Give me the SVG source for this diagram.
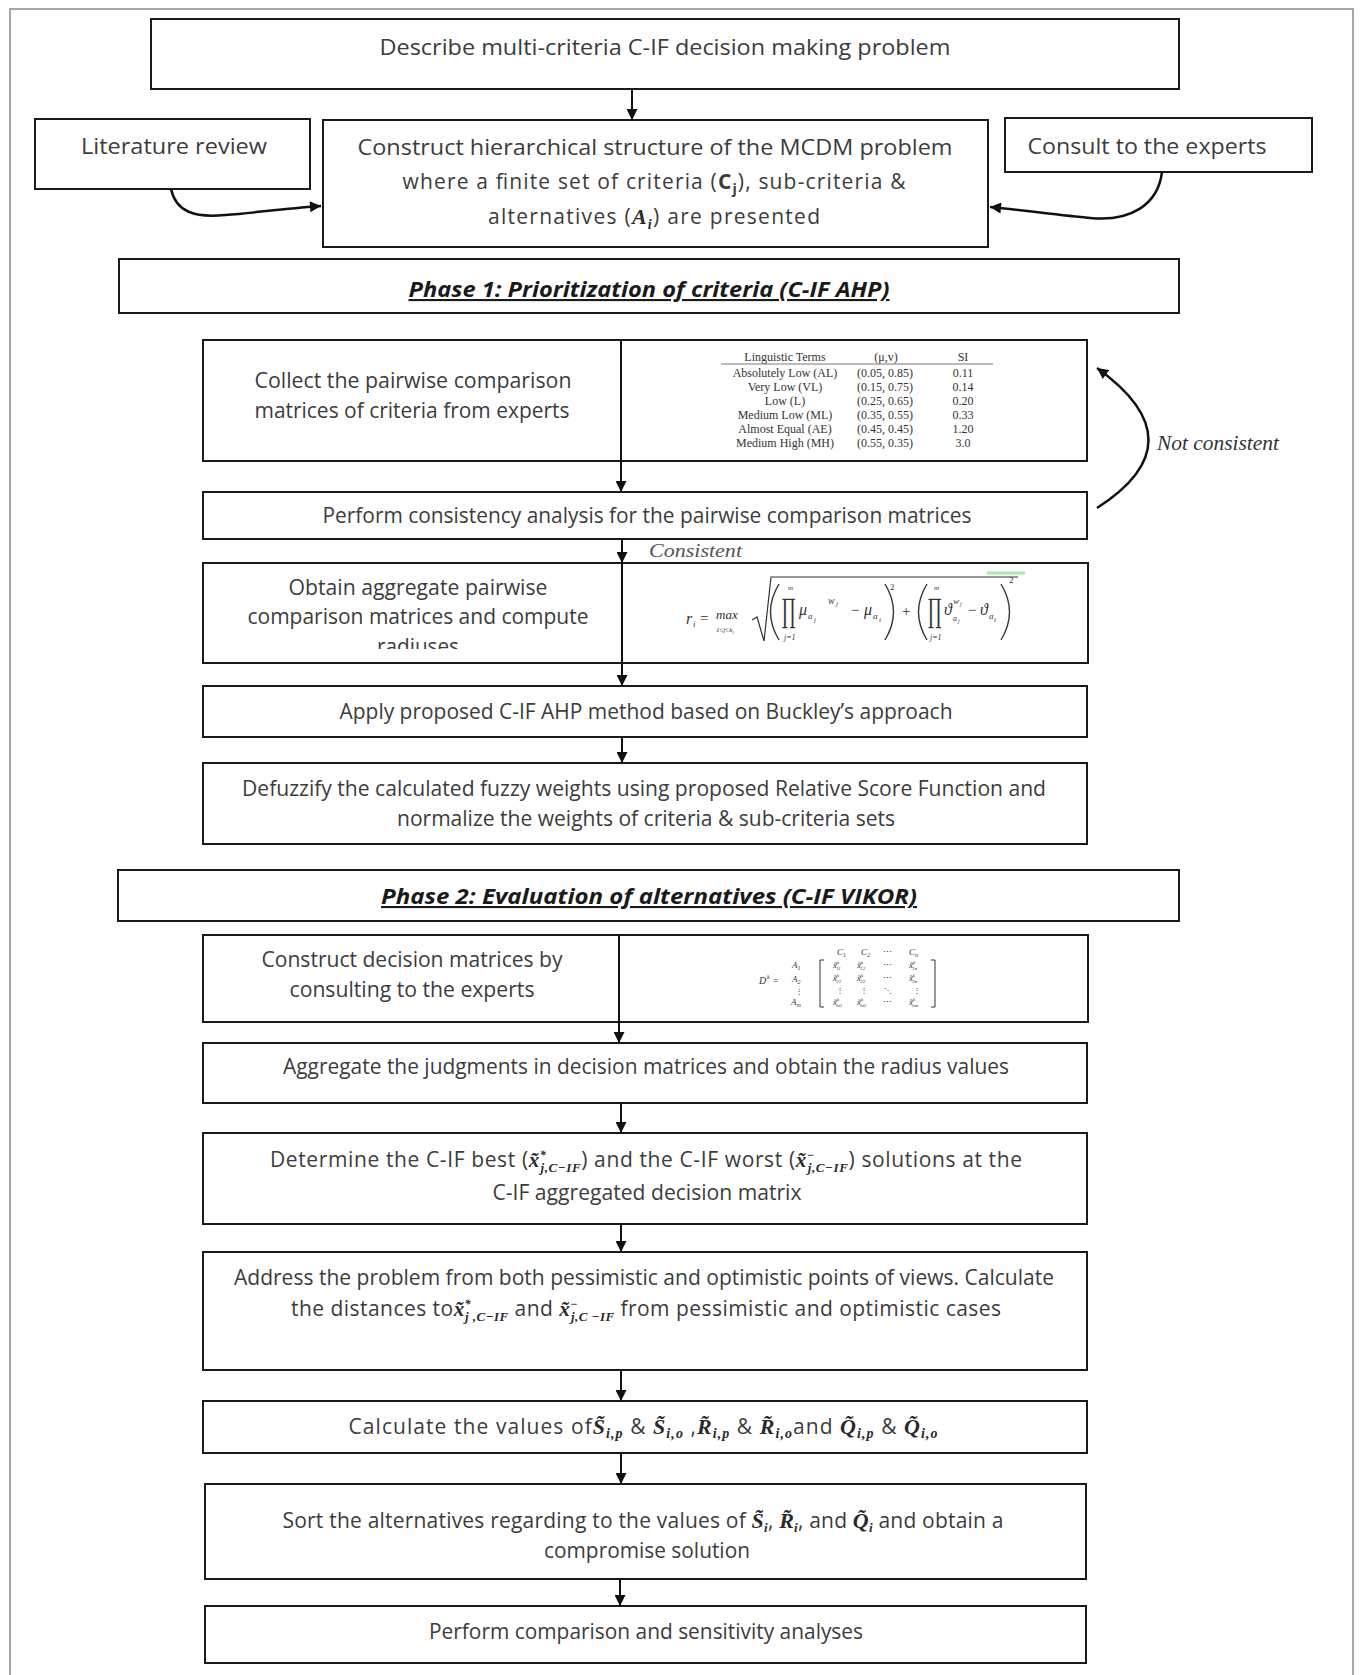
<svg xmlns="http://www.w3.org/2000/svg" width="1362" height="1675" viewBox="0 0 1362 1675">
<style>
.box{fill:#fff;stroke:#1a1a1a;stroke-width:2}
.t{font-family:"Open Sans","Noto Sans",sans-serif;font-size:21px;fill:#3c3c3c;text-anchor:middle}
.ph{font-family:"Open Sans","Noto Sans",sans-serif;font-size:21px;font-weight:bold;font-style:italic;fill:#1a1a1a;text-anchor:middle;text-decoration:underline}
.m{font-family:"Liberation Serif","DejaVu Serif",serif;font-style:italic}
.mb{font-family:"Liberation Serif","DejaVu Serif",serif;font-style:italic;font-weight:bold;fill:#2a2a2a}
.tb{font-family:"Liberation Serif",serif;font-size:12px;fill:#333;text-anchor:middle}
.f{font-family:"Liberation Serif","DejaVu Serif",serif;fill:#333}
.pr{font-family:"DejaVu Serif",serif;font-size:24px}
.c{fill:none;stroke:#111;stroke-width:2}
.cv{fill:none;stroke:#111;stroke-width:2.5}
.pa{fill:none;stroke:#333;stroke-width:1.4}
</style>
<defs>
<marker id="ah" viewBox="0 0 10 10" refX="10" refY="5" markerUnits="userSpaceOnUse" markerWidth="12" markerHeight="11" orient="auto">
<path d="M0,0 L10,5 L0,10 z" fill="#111"/>
</marker>
<clipPath id="clipAgg"><rect x="203" y="563" width="418" height="86"/></clipPath>
</defs>
<rect x="0" y="0" width="1362" height="1675" fill="#fff"/>
<rect x="10" y="9" width="1343" height="1700" fill="none" stroke="#8a8a8a" stroke-width="1.5"/>

<g id="n-describe">
<rect class="box" x="151" y="19" width="1028" height="70"/>
<text class="t" x="665" y="55" textLength="571" lengthAdjust="spacingAndGlyphs">Describe multi-criteria C-IF decision making problem</text>
</g>
<g id="n-literature">
<rect class="box" x="35" y="119" width="275" height="70"/>
<text class="t" x="174" y="154" textLength="186" lengthAdjust="spacingAndGlyphs">Literature review</text>
</g>
<g id="n-hierarchy">
<rect class="box" x="323" y="120" width="665" height="127"/>
<text class="t" x="655" y="155" textLength="595" lengthAdjust="spacingAndGlyphs">Construct hierarchical structure of the MCDM problem</text>
<text class="t" x="654" y="189" textLength="503" lengthAdjust="spacing">where a finite set of criteria (<tspan font-weight="bold">C</tspan><tspan font-size="14" dy="5" font-weight="bold">j</tspan><tspan dy="-5">), sub-criteria &amp;</tspan></text>
<text class="t" x="654" y="224" textLength="332" lengthAdjust="spacing">alternatives (<tspan class="mb" font-size="22">A</tspan><tspan class="mb" font-size="14" dy="5">i</tspan><tspan dy="-5">) are presented</tspan></text>
</g>
<g id="n-consult">
<rect class="box" x="1005" y="118" width="307" height="54"/>
<text class="t" x="1147" y="154" textLength="239" lengthAdjust="spacingAndGlyphs">Consult to the experts</text>
</g>
<g id="n-phase1">
<rect class="box" x="119" y="259" width="1060" height="54"/>
<text class="ph" x="649" y="297" textLength="481" lengthAdjust="spacingAndGlyphs">Phase 1: Prioritization of criteria (C-IF AHP)</text>
</g>
<g id="n-collect">
<rect class="box" x="203" y="340" width="884" height="121"/>
<text class="t" x="413" y="388" textLength="317" lengthAdjust="spacingAndGlyphs">Collect the pairwise comparison</text>
<text class="t" x="412" y="418" textLength="315" lengthAdjust="spacingAndGlyphs">matrices of criteria from experts</text>
<g id="table">
<text class="tb" x="785" y="361">Linguistic Terms</text>
<text class="tb" x="886" y="361">(μ,v)</text>
<text class="tb" x="963" y="361">SI</text>
<line x1="721" y1="364" x2="993" y2="364" stroke="#777" stroke-width="1"/>
<text class="tb" x="785" y="377">Absolutely Low (AL)</text><text class="tb" x="885" y="377">(0.05, 0.85)</text><text class="tb" x="963" y="377">0.11</text>
<text class="tb" x="785" y="391">Very Low (VL)</text><text class="tb" x="885" y="391">(0.15, 0.75)</text><text class="tb" x="963" y="391">0.14</text>
<text class="tb" x="785" y="405">Low (L)</text><text class="tb" x="885" y="405">(0.25, 0.65)</text><text class="tb" x="963" y="405">0.20</text>
<text class="tb" x="785" y="419">Medium Low (ML)</text><text class="tb" x="885" y="419">(0.35, 0.55)</text><text class="tb" x="963" y="419">0.33</text>
<text class="tb" x="785" y="433">Almost Equal (AE)</text><text class="tb" x="885" y="433">(0.45, 0.45)</text><text class="tb" x="963" y="433">1.20</text>
<text class="tb" x="785" y="447">Medium High (MH)</text><text class="tb" x="885" y="447">(0.55, 0.35)</text><text class="tb" x="963" y="447">3.0</text>
</g>
</g>
<g id="n-consistency">
<rect class="box" x="203" y="492" width="884" height="47"/>
<text class="t" x="647" y="523" textLength="649" lengthAdjust="spacingAndGlyphs">Perform consistency analysis for the pairwise comparison matrices</text>
</g>
<g id="n-aggregate">
<rect class="box" x="203" y="563" width="885" height="100"/>
<g clip-path="url(#clipAgg)">
<text class="t" x="418" y="595" textLength="259" lengthAdjust="spacingAndGlyphs">Obtain aggregate pairwise</text>
<text class="t" x="418" y="624" textLength="341" lengthAdjust="spacingAndGlyphs">comparison matrices and compute</text>
<text class="t" x="418" y="654" textLength="82" lengthAdjust="spacingAndGlyphs">radiuses</text>
</g>
<line x1="987" y1="573" x2="1025" y2="573" stroke="#a6eea6" stroke-width="3"/>
<g id="formula" class="f">
<text class="m" x="686" y="624" font-size="16">r</text><text class="m" x="693" y="627" font-size="9">i</text>
<text x="700" y="623" font-size="15">=</text>
<text class="m" x="716" y="619" font-size="13">max</text>
<text class="m" x="716" y="632" font-size="7">1≤j≤k<tspan font-size="5" dy="2">i</tspan></text>
<path d="M752,620 L757,617 L764,641 L771,577 L1018,577" fill="none" stroke="#333" stroke-width="1.2"/>
<path class="pa" d="M779,584 Q762,612 779,640"/>
<text class="pr" transform="translate(782,622) scale(0.7,1.35)">∏</text>
<text class="m" x="788" y="590" font-size="7">m</text>
<text class="m" x="784" y="640" font-size="8">j=1</text>
<text class="m" x="799" y="615" font-size="16">μ</text><text class="m" x="808" y="619" font-size="9">a</text><text class="m" x="814" y="622" font-size="7">j</text>
<text class="m" x="828" y="604" font-size="10">w</text><text class="m" x="836" y="606" font-size="7">j</text>
<text x="851" y="615" font-size="15">−</text>
<text class="m" x="864" y="615" font-size="16">μ</text><text class="m" x="873" y="619" font-size="9">a</text><text class="m" x="879" y="622" font-size="7">i</text>
<path class="pa" d="M885,584 Q902,612 885,640"/>
<text x="890" y="590" font-size="9">2</text>
<text x="902" y="616" font-size="15">+</text>
<path class="pa" d="M927,584 Q910,612 927,640"/>
<text class="pr" transform="translate(928,622) scale(0.7,1.35)">∏</text>
<text class="m" x="934" y="590" font-size="7">m</text>
<text class="m" x="930" y="640" font-size="8">j=1</text>
<text class="m" x="944" y="615" font-size="16">ϑ</text>
<text class="m" x="953" y="604" font-size="9">w</text><text class="m" x="960" y="606" font-size="6">j</text>
<text class="m" x="953" y="621" font-size="8">a</text><text class="m" x="958" y="623" font-size="6">j</text>
<text x="968" y="615" font-size="15">−</text>
<text class="m" x="980" y="615" font-size="16">ϑ</text><text class="m" x="989" y="619" font-size="9">a</text><text class="m" x="994" y="622" font-size="7">i</text>
<path class="pa" d="M1001,584 Q1018,612 1001,640"/>
<text x="1009" y="583" font-size="9">2</text>
</g>
</g>
<g id="n-apply">
<rect class="box" x="203" y="686" width="884" height="51"/>
<text class="t" x="646" y="719" textLength="613" lengthAdjust="spacingAndGlyphs">Apply proposed C-IF AHP method based on Buckley’s approach</text>
</g>
<g id="n-defuzzify">
<rect class="box" x="203" y="763" width="884" height="81"/>
<text class="t" x="644" y="796" textLength="804" lengthAdjust="spacingAndGlyphs">Defuzzify the calculated fuzzy weights using proposed Relative Score Function and</text>
<text class="t" x="646" y="826" textLength="498" lengthAdjust="spacingAndGlyphs">normalize the weights of criteria &amp; sub-criteria sets</text>
</g>
<g id="n-phase2">
<rect class="box" x="118" y="870" width="1061" height="51"/>
<text class="ph" x="649" y="904" textLength="536" lengthAdjust="spacingAndGlyphs">Phase 2: Evaluation of alternatives (C-IF VIKOR)</text>
</g>
<g id="n-construct">
<rect class="box" x="203" y="935" width="885" height="87"/>
<text class="t" x="412" y="967" textLength="301" lengthAdjust="spacingAndGlyphs">Construct decision matrices by</text>
<text class="t" x="412" y="997" textLength="245" lengthAdjust="spacingAndGlyphs">consulting to the experts</text>
<g id="matrix" class="f">
<text class="m" x="759" y="984" font-size="10">D</text><text class="m" x="767" y="979" font-size="6">k</text>
<text x="773" y="984" font-size="10">=</text>
<text class="m" x="837" y="955" font-size="9">C<tspan font-size="6" dy="2">1</tspan></text>
<text class="m" x="861" y="955" font-size="9">C<tspan font-size="6" dy="2">2</tspan></text>
<text x="883" y="955" font-size="9">⋯</text>
<text class="m" x="909" y="955" font-size="9">C<tspan font-size="6" dy="2">n</tspan></text>
<text class="m" x="792" y="968" font-size="9">A<tspan font-size="6" dy="2">1</tspan></text>
<text class="m" x="792" y="982" font-size="9">A<tspan font-size="6" dy="2">2</tspan></text>
<text x="795" y="994" font-size="8">⋮</text>
<text class="m" x="791" y="1005" font-size="9">A<tspan font-size="6" dy="2">m</tspan></text>
<path d="M824,960 L820,960 L820,1007 L824,1007" fill="none" stroke="#333" stroke-width="1"/>
<path d="M931,960 L935,960 L935,1007 L931,1007" fill="none" stroke="#333" stroke-width="1"/>
<text class="m" x="833" y="968" font-size="9">x̃<tspan font-size="5" dy="-4">k</tspan><tspan font-size="5" dx="-3" dy="6">11</tspan></text>
<text class="m" x="857" y="968" font-size="9">x̃<tspan font-size="5" dy="-4">k</tspan><tspan font-size="5" dx="-3" dy="6">12</tspan></text>
<text x="883" y="968" font-size="9">⋯</text>
<text class="m" x="909" y="968" font-size="9">x̃<tspan font-size="5" dy="-4">k</tspan><tspan font-size="5" dx="-3" dy="6">1n</tspan></text>
<text class="m" x="833" y="981" font-size="9">x̃<tspan font-size="5" dy="-4">k</tspan><tspan font-size="5" dx="-3" dy="6">21</tspan></text>
<text class="m" x="857" y="981" font-size="9">x̃<tspan font-size="5" dy="-4">k</tspan><tspan font-size="5" dx="-3" dy="6">22</tspan></text>
<text x="883" y="981" font-size="9">⋯</text>
<text class="m" x="909" y="981" font-size="9">x̃<tspan font-size="5" dy="-4">k</tspan><tspan font-size="5" dx="-3" dy="6">2n</tspan></text>
<text x="836" y="993" font-size="8">⋮</text>
<text x="860" y="993" font-size="8">⋮</text>
<text x="884" y="993" font-size="8">⋱</text>
<text x="913" y="993" font-size="8">⋮</text>
<text class="m" x="833" y="1005" font-size="9">x̃<tspan font-size="5" dy="-4">k</tspan><tspan font-size="5" dx="-3" dy="6">m1</tspan></text>
<text class="m" x="857" y="1005" font-size="9">x̃<tspan font-size="5" dy="-4">k</tspan><tspan font-size="5" dx="-3" dy="6">m2</tspan></text>
<text x="883" y="1005" font-size="9">⋯</text>
<text class="m" x="909" y="1005" font-size="9">x̃<tspan font-size="5" dy="-4">k</tspan><tspan font-size="5" dx="-3" dy="6">mn</tspan></text>
</g>
</g>
<g id="n-aggjudg">
<rect class="box" x="203" y="1043" width="884" height="60"/>
<text class="t" x="646" y="1074" textLength="726" lengthAdjust="spacingAndGlyphs">Aggregate the judgments in decision matrices and obtain the radius values</text>
</g>
<g id="n-determine">
<rect class="box" x="203" y="1133" width="884" height="91"/>
<text class="t" x="646" y="1167" textLength="752" lengthAdjust="spacing">Determine the C-IF best (<tspan class="mb" font-size="21">x̃</tspan><tspan class="mb" font-size="12" dy="-8">*</tspan><tspan class="mb" font-size="13" dx="-6" dy="13">j,C−IF</tspan><tspan dy="-5">) and the C-IF worst (</tspan><tspan class="mb" font-size="21">x̃</tspan><tspan class="mb" font-size="12" dy="-8">−</tspan><tspan class="mb" font-size="13" dx="-7" dy="13">j,C−IF</tspan><tspan dy="-5">) solutions at the</tspan></text>
<text class="t" x="647" y="1200" textLength="309" lengthAdjust="spacingAndGlyphs">C-IF aggregated decision matrix</text>
</g>
<g id="n-address">
<rect class="box" x="203" y="1252" width="884" height="118"/>
<text class="t" x="644" y="1285" textLength="820" lengthAdjust="spacingAndGlyphs">Address the problem from both pessimistic and optimistic points of views. Calculate</text>
<text class="t" x="646" y="1316" textLength="710" lengthAdjust="spacing">the distances to<tspan class="mb" font-size="21">x̃</tspan><tspan class="mb" font-size="12" dy="-8">*</tspan><tspan class="mb" font-size="13" dx="-6" dy="13">j ,C−IF</tspan><tspan dy="-5">  and </tspan><tspan class="mb" font-size="21">x̃</tspan><tspan class="mb" font-size="12" dy="-8">−</tspan><tspan class="mb" font-size="13" dx="-7" dy="13">j,C −IF</tspan><tspan dy="-5"> from pessimistic and optimistic cases</tspan></text>
</g>
<g id="n-calculate">
<rect class="box" x="203" y="1401" width="884" height="52"/>
<text class="t" x="643" y="1434" textLength="589" lengthAdjust="spacing">Calculate the values of<tspan class="mb" font-size="22">S̃</tspan><tspan class="mb" font-size="14" dy="4">i,p</tspan><tspan dy="-4"> &amp; </tspan><tspan class="mb" font-size="22">S̃</tspan><tspan class="mb" font-size="14" dy="4">i,o</tspan><tspan dy="-4"> ,</tspan><tspan class="mb" font-size="22">R̃</tspan><tspan class="mb" font-size="14" dy="4">i,p</tspan><tspan dy="-4"> &amp; </tspan><tspan class="mb" font-size="22">R̃</tspan><tspan class="mb" font-size="14" dy="4">i,o</tspan><tspan dy="-4">and  </tspan><tspan class="mb" font-size="22">Q̃</tspan><tspan class="mb" font-size="14" dy="4">i,p</tspan><tspan dy="-4"> &amp; </tspan><tspan class="mb" font-size="22">Q̃</tspan><tspan class="mb" font-size="14" dy="4">i,o</tspan></text>
</g>
<g id="n-sort">
<rect class="box" x="205" y="1484" width="881" height="95"/>
<text class="t" x="643" y="1528" textLength="721" lengthAdjust="spacing">Sort the alternatives regarding to the values of  <tspan class="mb" font-size="22">S̃</tspan><tspan class="mb" font-size="13" dy="4">i</tspan><tspan dy="-4">, </tspan><tspan class="mb" font-size="22">R̃</tspan><tspan class="mb" font-size="13" dy="4">i</tspan><tspan dy="-4">, and </tspan><tspan class="mb" font-size="22">Q̃</tspan><tspan class="mb" font-size="13" dy="4">i</tspan><tspan dy="-4"> and obtain a</tspan></text>
<text class="t" x="647" y="1558" textLength="206" lengthAdjust="spacingAndGlyphs">compromise solution</text>
</g>
<g id="n-perform">
<rect class="box" x="205" y="1606" width="881" height="57"/>
<text class="t" x="646" y="1639" textLength="434" lengthAdjust="spacingAndGlyphs">Perform comparison and sensitivity analyses</text>
</g>

<g id="connectors">
<line class="c" x1="632" y1="89" x2="632" y2="120" marker-end="url(#ah)"/>
<path class="cv" d="M171,189 C176,212 195,218 225,215 C262,212 292,208 321,206" marker-end="url(#ah)"/>
<path class="cv" d="M1162,172 C1158,205 1130,222 1090,218 C1058,215 1022,210 990,207" marker-end="url(#ah)"/>
<line class="c" x1="621" y1="340" x2="621" y2="492" marker-end="url(#ah)"/>
<path class="cv" d="M1097,508 Q1200,442 1097,368" marker-end="url(#ah)"/>
<text x="1157" y="450" font-family="Liberation Serif, serif" font-style="italic" font-size="20" fill="#333" textLength="122" lengthAdjust="spacingAndGlyphs">Not consistent</text>
<line class="c" x1="622" y1="539" x2="622" y2="563" marker-end="url(#ah)"/>
<text x="649" y="557" font-family="Liberation Serif, serif" font-style="italic" font-size="19" fill="#555" textLength="93" lengthAdjust="spacingAndGlyphs">Consistent</text>
<line class="c" x1="622" y1="563" x2="622" y2="686" marker-end="url(#ah)"/>
<line class="c" x1="622" y1="737" x2="622" y2="763" marker-end="url(#ah)"/>
<line class="c" x1="619" y1="935" x2="619" y2="1043" marker-end="url(#ah)"/>
<line class="c" x1="621" y1="1103" x2="621" y2="1133" marker-end="url(#ah)"/>
<line class="c" x1="621" y1="1224" x2="621" y2="1252" marker-end="url(#ah)"/>
<line class="c" x1="621" y1="1370" x2="621" y2="1401" marker-end="url(#ah)"/>
<line class="c" x1="621" y1="1453" x2="621" y2="1484" marker-end="url(#ah)"/>
<line class="c" x1="620" y1="1579" x2="620" y2="1606" marker-end="url(#ah)"/>
</g>
</svg>
